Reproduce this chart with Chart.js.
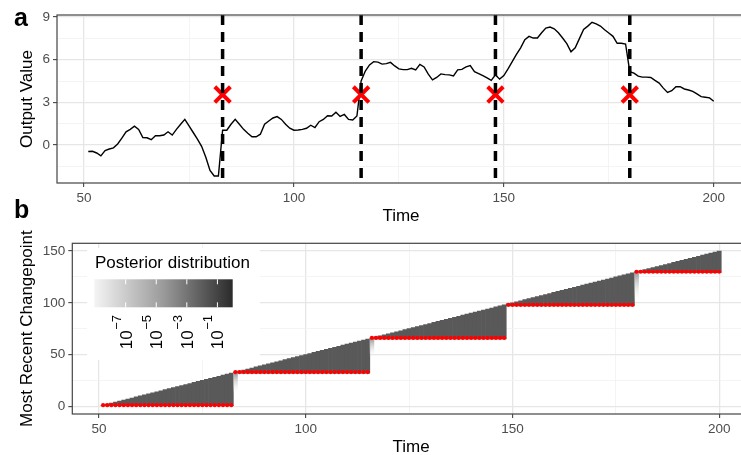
<!DOCTYPE html>
<html>
<head>
<meta charset="utf-8">
<script src="https://cdn.jsdelivr.net/npm/chart.js@4"></script>
<style>
  html, body { margin: 0; padding: 0; background: #fff; }
  body { width: 741px; height: 455px; overflow: hidden; position: relative; }
  canvas { position: absolute; left: 0; }
  #top { top: 0; }
  #bottom { top: 227px; }
</style>
</head>
<body>
<canvas id="top" width="760" height="227"></canvas>
<canvas id="bottom" width="760" height="240"></canvas>
<script>
const FONT = "'Liberation Sans', Arial, sans-serif";
Chart.defaults.font.family = FONT;

// time index 51..200
const times = Array.from({ length: 150 }, (_, i) => 51 + i);

const outputValues = [
  -0.46, -0.44, -0.56, -0.76, -0.39, -0.28, -0.2, 0.07, 0.49, 0.93,
  1.1, 1.32, 1.1, 0.53, 0.51, 0.37, 0.65, 0.65, 0.7, 0.93,
  0.7, 1.1, 1.46, 1.8, 1.34, 0.88, 0.42, -0.09, -0.86, -1.78,
  -2.18, -2.18, 1.04, 1.04, 1.46, 1.8, 1.46, 1.1, 0.83, 0.58,
  0.58, 0.76, 1.46, 1.69, 1.9, 2.0, 1.8, 1.46, 1.18, 1.04,
  1.06, 1.1, 1.18, 1.39, 1.23, 1.64, 1.8, 2.06, 2.04, 2.31,
  2.01, 2.15, 1.8, 1.76, 2.04, 4.5, 5.2, 5.63, 5.86, 5.83,
  5.69, 5.72, 5.81, 5.56, 5.35, 5.3, 5.3, 5.39, 5.28, 5.67,
  5.49, 4.98, 4.58, 4.75, 5.0, 4.95, 4.93, 4.86, 5.28, 5.32,
  5.49, 5.58, 5.16, 5.02, 4.88, 4.72, 4.54, 4.93, 4.63, 4.88,
  5.35, 5.86, 6.37, 6.83, 7.41, 7.64, 7.52, 7.52, 7.89, 8.22,
  8.29, 8.17, 7.89, 7.52, 7.13, 6.55, 6.83, 7.48, 8.13, 8.36,
  8.63, 8.52, 8.36, 8.1, 7.87, 7.64, 7.15, 7.15, 7.1, 5.16,
  5.05, 4.84, 4.77, 4.77, 4.75, 4.54, 4.35, 4.0, 3.7, 3.82,
  4.1, 4.1, 3.94, 3.87, 3.77, 3.59, 3.4, 3.36, 3.31, 3.08
];
const changepoints = [83, 116, 148, 180];
const markerY = 3.55;

// panel b: MAP most recent changepoint per segment
const mapStart = [51, 83, 116, 149, 180];
const mapValue = [1, 33, 66, 98, 130];
// light posterior mass just below the new changepoint
const fadeTimes = [83, 116, 180];
const fadeBottom = [12, 47, 100];

// axes
const xMin = 43.55, xMax = 207.45;
const xGrid = [50, 75, 100, 125, 150, 175, 200];
const xLabels = [50, 100, 150, 200];
const yTopMin = -2.67, yTopMax = 9.14;
const yTopGrid = [-1.5, 0, 1.5, 3, 4.5, 6, 7.5, 9];
const yTopLabels = [0, 3, 6, 9];
const yBotMin = -7.5, yBotMax = 157.5;
const yBotGrid = [0, 25, 50, 75, 100, 125, 150];
const yBotLabels = [0, 50, 100, 150];

// colour bar
const legendExponents = [-7, -5, -3, -1];
const legendRange = [-9.05, 0];

function segValue(t) {
  let v = mapValue[0];
  mapStart.forEach((s, i) => { if (t >= s) v = mapValue[i]; });
  return v;
}

function gridOpts(labels) {
  return {
    offset: false,
    color: c => (c.tick && labels.includes(c.tick.value)) ? '#e6e6e6' : '#f1f1f1',
    lineWidth: c => (c.tick && labels.includes(c.tick.value)) ? 1.3 : 0.8,
    tickColor: c => (c.tick && labels.includes(c.tick.value)) ? '#333' : 'rgba(0,0,0,0)',
    tickLength: 4,
    tickWidth: 1
  };
}

function axis(min, max, grid, labels, extra) {
  return Object.assign({
    type: 'linear',
    min, max,
    offset: false,
    afterBuildTicks: s => { s.ticks = grid.map(v => ({ value: v })); },
    grid: gridOpts(labels),
    border: { display: false },
    ticks: {
      autoSkip: false,
      maxRotation: 0,
      color: '#4d4d4d',
      font: { size: 13.5 },
      callback: v => labels.includes(v) ? String(v) : ''
    }
  }, extra);
}

const panelBorder = {
  id: 'panelBorder',
  afterDraw(chart) {
    const { ctx, chartArea: a } = chart;
    ctx.save();
    ctx.strokeStyle = '#444';
    ctx.lineWidth = 1.2;
    ctx.strokeRect(a.left, a.top, a.right - a.left, a.bottom - a.top);
    ctx.restore();
  }
};

const cpLines = {
  id: 'cpLines',
  afterDatasetsDraw(chart) {
    const { ctx, chartArea: a, scales } = chart;
    ctx.save();
    ctx.beginPath();
    ctx.rect(a.left, a.top, a.right - a.left, a.bottom - a.top);
    ctx.clip();
    ctx.strokeStyle = '#000';
    ctx.lineWidth = 3.5;
    ctx.setLineDash([10, 7]);
    changepoints.forEach(cp => {
      const x = scales.x.getPixelForValue(cp);
      ctx.beginPath();
      ctx.moveTo(x, a.top);
      ctx.lineTo(x, a.bottom);
      ctx.stroke();
    });
    ctx.restore();
  },
  afterDraw(chart) {
    const ctx = chart.ctx;
    ctx.save();
    ctx.fillStyle = '#000';
    ctx.font = 'bold 25px ' + FONT;
    ctx.textBaseline = 'alphabetic';
    ctx.fillText('a', 14, 26);
    ctx.fillText('b', 14, 218);
    ctx.restore();
  }
};

new Chart(document.getElementById('top'), {
  type: 'line',
  data: {
    datasets: [
      {
        data: times.map((t, i) => ({ x: t, y: outputValues[i] })),
        borderColor: '#000',
        borderWidth: 1.4,
        pointRadius: 0,
        tension: 0,
        order: 2
      },
      {
        type: 'scatter',
        data: changepoints.map(c => ({ x: c, y: markerY })),
        pointStyle: 'crossRot',
        pointRadius: 11,
        pointBorderWidth: 4,
        pointBorderColor: '#ff0000',
        pointBackgroundColor: '#ff0000',
        order: 1
      }
    ]
  },
  options: {
    responsive: false,
    animation: false,
    events: [],
    layout: { padding: { left: 0, top: 13, right: 8.5, bottom: 0 } },
    plugins: { legend: { display: false }, tooltip: { enabled: false } },
    scales: {
      x: axis(xMin, xMax, xGrid, xLabels, {
        afterFit: s => { s.height = 44; },
        title: { display: true, text: 'Time', color: '#000', font: { size: 17 }, padding: { top: 0, bottom: 0 } }
      }),
      y: axis(yTopMin, yTopMax, yTopGrid, yTopLabels, {
        afterFit: s => { s.width = 57; },
        title: { display: true, text: 'Output Value', color: '#000', font: { size: 17 }, padding: { top: 17, bottom: 0 } }
      })
    }
  },
  plugins: [cpLines, panelBorder]
});

// bottom panel
const heat = times.map(t => ({ x: t, y: [segValue(t) - 1, t - 50] }));
const dots = times.map(t => ({ x: t, y: segValue(t) }));
const fade = fadeTimes.map((t, i) => ({ x: t, y: [fadeBottom[i], segValue(t) - 1] }));

function fadeColor(c) {
  const chart = c.chart;
  if (!chart.chartArea || !c.raw) return 'rgba(0,0,0,0.25)';
  const y = chart.scales.y;
  const top = y.getPixelForValue(c.raw.y[1]);
  const bot = y.getPixelForValue(c.raw.y[0]);
  const g = chart.ctx.createLinearGradient(0, top, 0, bot);
  g.addColorStop(0, '#9c9c9c');
  g.addColorStop(1, 'rgba(255,255,255,0)');
  return g;
}

const posteriorLegend = {
  id: 'posteriorLegend',
  beforeDatasetsDraw(chart) {
    const ctx = chart.ctx;
    const box = { x: 87, y: 21, w: 173, h: 112 };
    const bar = { x: 94.3, y: 52.3, w: 138.4, h: 28 };
    ctx.save();
    ctx.fillStyle = '#fff';
    ctx.fillRect(box.x, box.y, box.w, box.h);
    ctx.fillStyle = '#000';
    ctx.font = '17px ' + FONT;
    ctx.textBaseline = 'alphabetic';
    ctx.fillText('Posterior distribution', 95, 41);
    const g = ctx.createLinearGradient(bar.x, 0, bar.x + bar.w, 0);
    g.addColorStop(0, '#f4f4f4');
    g.addColorStop(0.5, '#9a9a9a');
    g.addColorStop(1, '#2b2b2b');
    ctx.fillStyle = g;
    ctx.fillRect(bar.x, bar.y, bar.w, bar.h);
    const span = legendRange[1] - legendRange[0];
    legendExponents.forEach(e => {
      const x = bar.x + (e - legendRange[0]) / span * bar.w;
      ctx.strokeStyle = '#fff';
      ctx.lineWidth = 1;
      ctx.beginPath();
      ctx.moveTo(x, bar.y); ctx.lineTo(x, bar.y + 5);
      ctx.moveTo(x, bar.y + bar.h - 5); ctx.lineTo(x, bar.y + bar.h);
      ctx.stroke();
      // rotated label 10^e
      ctx.save();
      ctx.translate(x, 88);
      ctx.rotate(-Math.PI / 2);
      ctx.fillStyle = '#000';
      ctx.textAlign = 'right';
      ctx.font = '13px ' + FONT;
      const sup = '\u2212' + Math.abs(e);
      const ws = ctx.measureText(sup).width;
      ctx.fillText(sup, 0, -5);
      ctx.font = '17px ' + FONT;
      ctx.fillText('10', -ws - 0.5, 6);
      ctx.restore();
    });
    ctx.restore();
  }
};

new Chart(document.getElementById('bottom'), {
  type: 'bar',
  data: {
    datasets: [
      {
        type: 'line',
        data: dots,
        showLine: false,
        pointRadius: 2.1,
        pointBorderWidth: 0,
        pointBackgroundColor: '#ff0000',
        order: 0
      },
      {
        data: fade,
        backgroundColor: fadeColor,
        borderWidth: 0,
        grouped: false,
        barPercentage: 1,
        categoryPercentage: 1,
        order: 1
      },
      {
        data: heat,
        backgroundColor: '#595959',
        borderWidth: 0,
        grouped: false,
        barPercentage: 1,
        categoryPercentage: 1,
        order: 2
      }
    ]
  },
  options: {
    responsive: false,
    animation: false,
    events: [],
    layout: { padding: { left: 0, top: 16.3, right: 10, bottom: 0 } },
    plugins: { legend: { display: false }, tooltip: { enabled: false } },
    scales: {
      x: axis(xMin, xMax, xGrid, xLabels, {
        afterFit: s => { s.height = 53; },
        title: { display: true, text: 'Time', color: '#000', font: { size: 17 }, padding: { top: 0, bottom: 9 } }
      }),
      y: axis(yBotMin, yBotMax, yBotGrid, yBotLabels, {
        beginAtZero: false,
        afterFit: s => { s.width = 72.3; },
        title: { display: true, text: 'Most Recent Changepoint', color: '#000', font: { size: 17 }, padding: { top: 17.5, bottom: 0 } }
      })
    }
  },
  plugins: [posteriorLegend, panelBorder]
});
</script>
</body>
</html>
